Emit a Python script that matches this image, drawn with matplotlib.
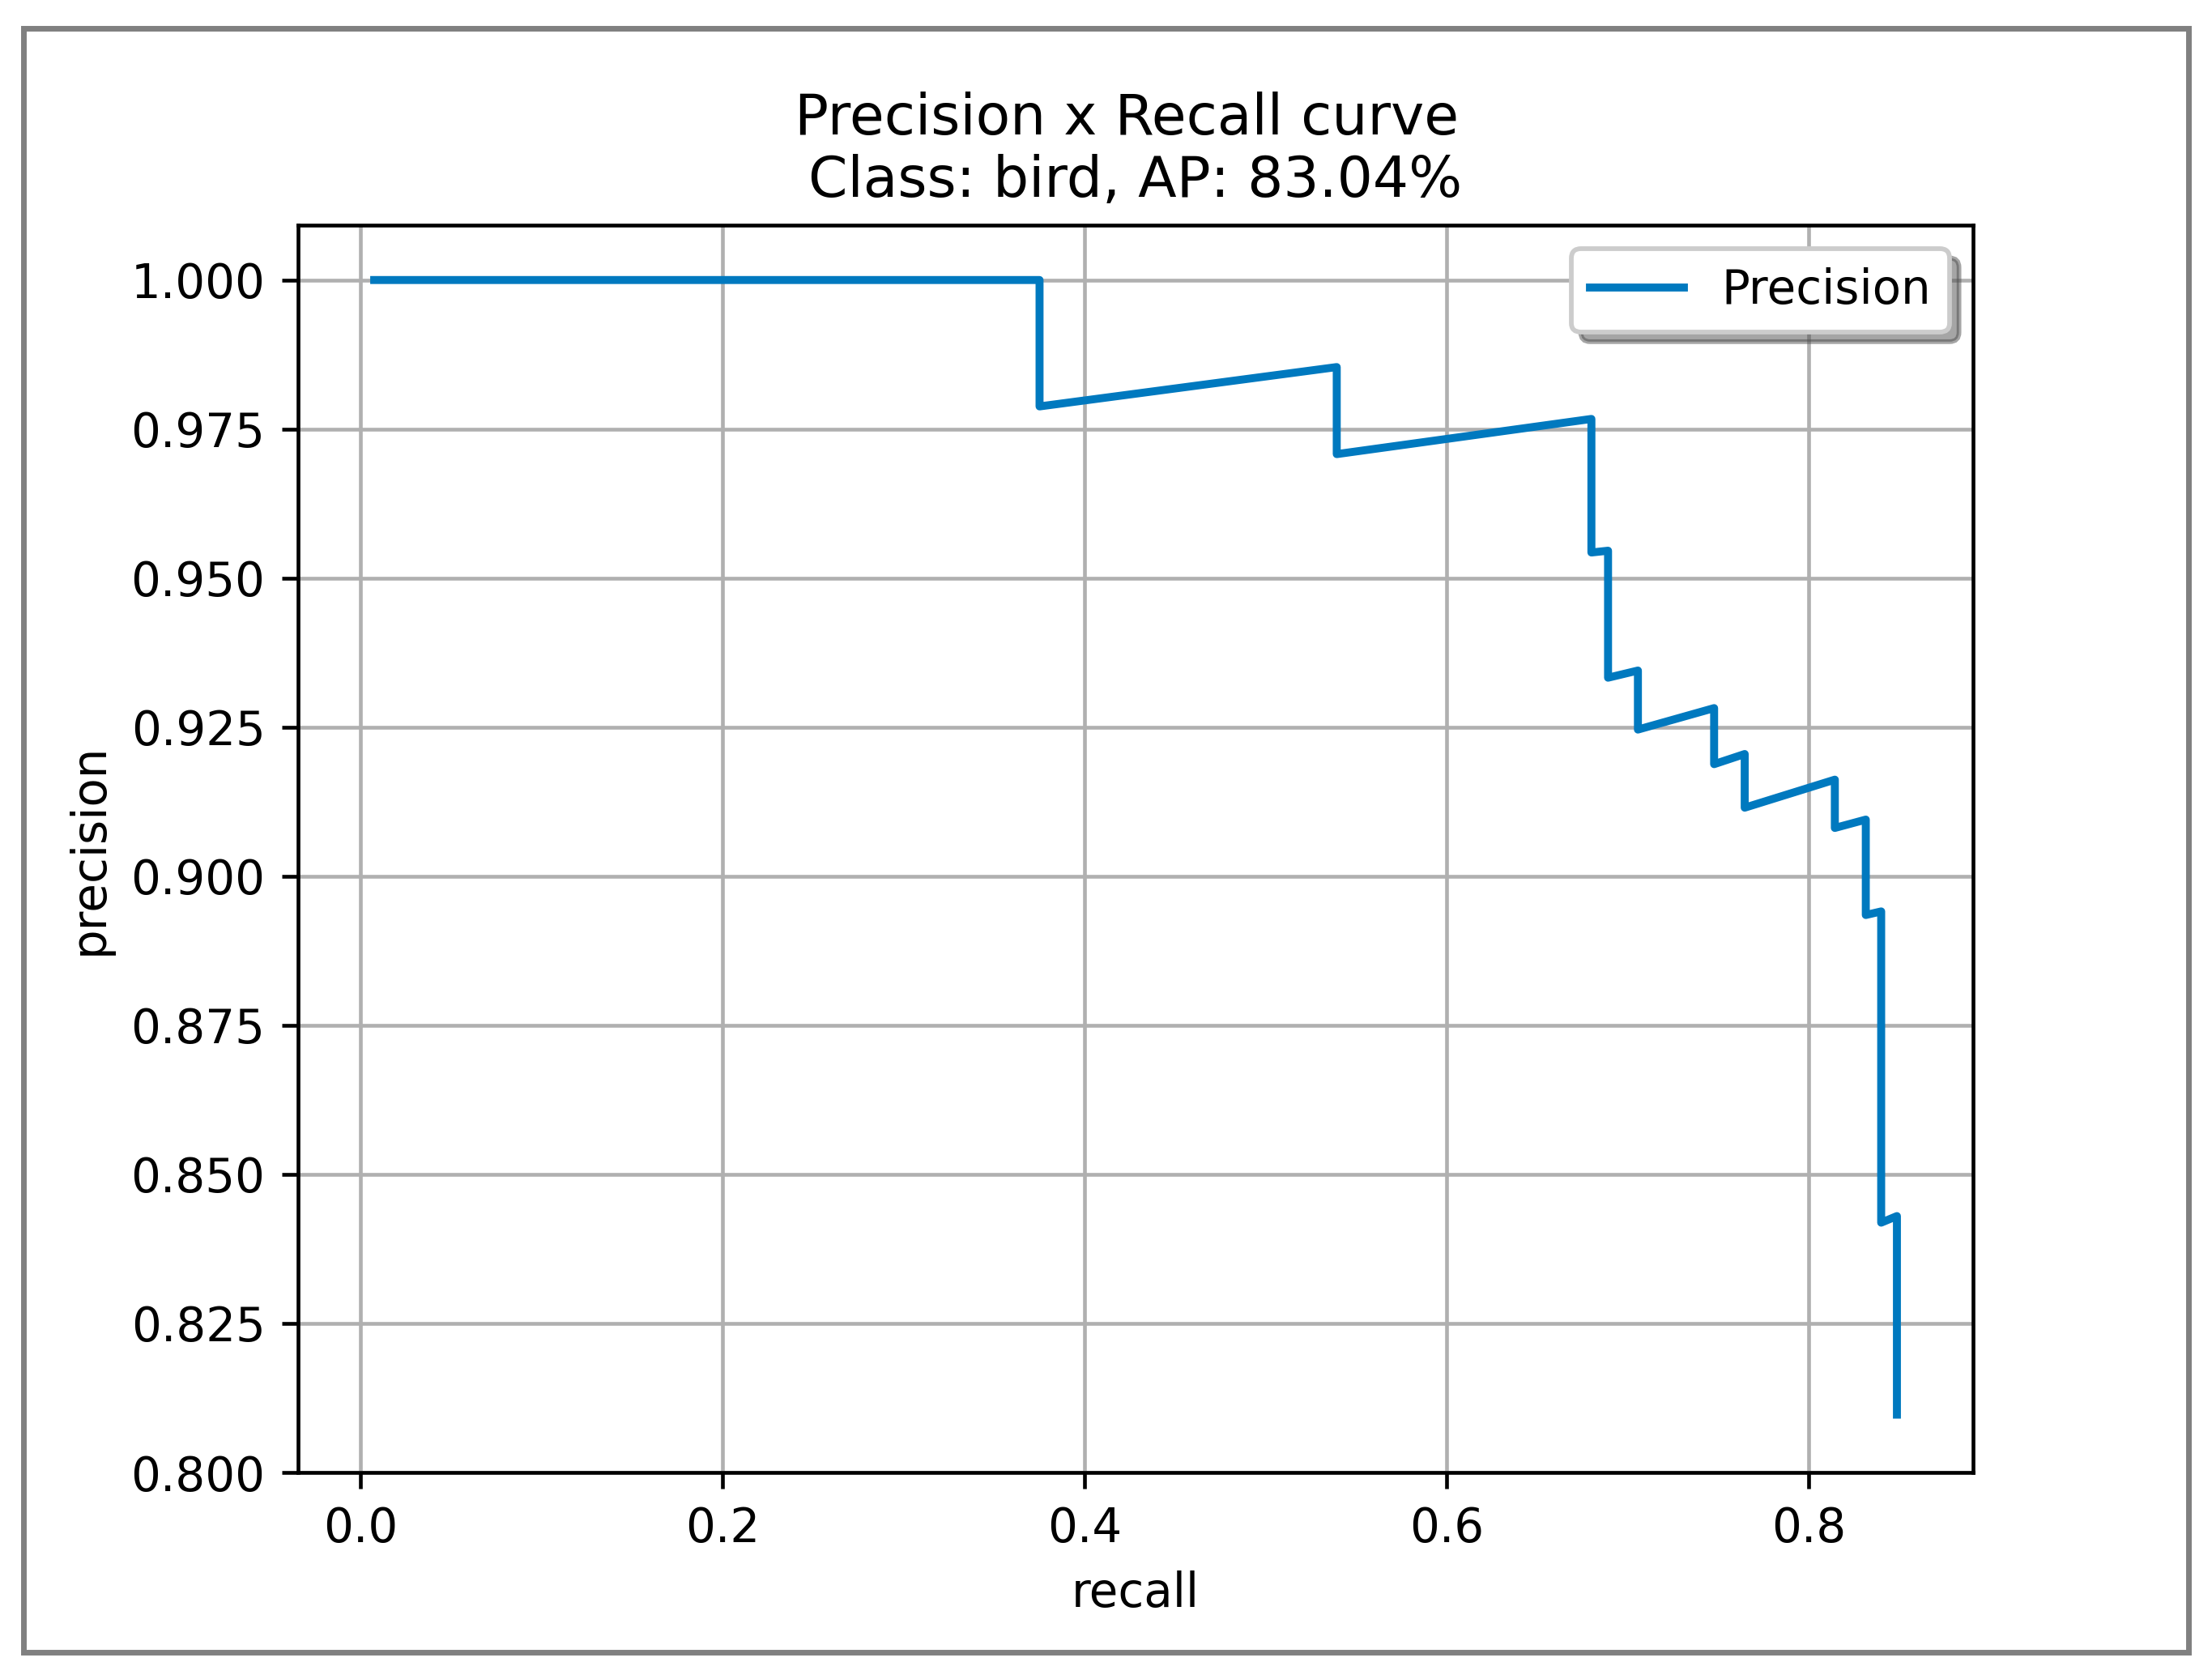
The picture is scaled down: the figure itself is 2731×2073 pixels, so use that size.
import matplotlib
matplotlib.use("Agg")
import matplotlib.pyplot as plt
from matplotlib.patches import Rectangle

# recall / precision points
recall = [0.0075, 0.3751, 0.3751, 0.5393, 0.5393, 0.6800, 0.6800, 0.6892,
          0.6892, 0.7057, 0.7057, 0.7478, 0.7478, 0.7647, 0.7647, 0.8145,
          0.8145, 0.8316, 0.8316, 0.8401, 0.8401, 0.8488, 0.8488]
precision = [1.0, 1.0, 0.9788, 0.9854, 0.9708, 0.9767, 0.9543, 0.9546,
             0.9333, 0.9345, 0.9246, 0.9282, 0.9188, 0.9205, 0.9115, 0.9162,
             0.9081, 0.9095, 0.8935, 0.8941, 0.8419, 0.8430, 0.8097]

class_name = "bird"
ap = 83.04

dpi = 416.8
fig = plt.figure(figsize=(2731 / dpi, 2073 / dpi), dpi=dpi)
ax = fig.add_axes([368 / 2731, 1 - 1818 / 2073, 2068 / 2731, 1540 / 2073])

ax.plot(recall, precision, color="#0079bf", linewidth=1.7, label="Precision")
ax.set_ylim(0.8, 1.0092)
ax.set_xlabel("recall")
ax.set_ylabel("precision")
ax.set_title("Precision x Recall curve \nClass: %s, AP: %.2f%%" % (class_name, ap))
ax.legend(shadow=True)
ax.grid()

# grey frame around the whole figure
fig.patches.append(Rectangle((29.5 / 2731, 1 - 2039.5 / 2073), 2672 / 2731, 2005 / 2073,
                             transform=fig.transFigure, fill=False,
                             edgecolor="#808080", linewidth=1.2))

fig.savefig("out.png", dpi=dpi)
